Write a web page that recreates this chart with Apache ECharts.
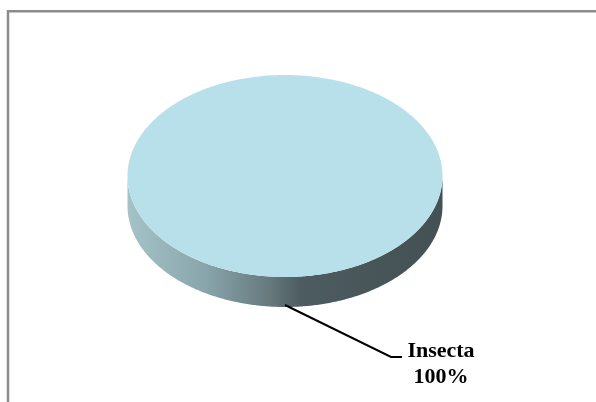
<!DOCTYPE html>
<html>
<head>
<meta charset="utf-8">
<script src="https://cdn.jsdelivr.net/npm/echarts/dist/echarts.min.js"></script>
<style>
  html, body { margin: 0; padding: 0; background: #ffffff; }
  #chart { width: 596px; height: 402px; }
</style>
</head>
<body>
<div id="chart"></div>
<script>
// Class composition of the sample
const categories = ['Insecta'];
const values = [100];

// Styling of the tilted pie
const topColors = ['#b8e0ea'];
const sideStops = [
  { offset: 0.0, color: '#a4c3c9' },
  { offset: 0.25, color: '#88a5ab' },
  { offset: 0.45, color: '#66797d' },
  { offset: 0.55, color: '#4d5c60' },
  { offset: 1.0, color: '#435054' }
];

const pie = { cx: 285, cy: 176, rx: 157.5, ry: 101, depth: 30 };
const total = values.reduce((a, b) => a + b, 0);

// Points along the elliptical rim between two screen angles
function arcPoints(t0, t1, dy) {
  const n = Math.max(2, Math.ceil(Math.abs(t1 - t0) / 0.01));
  const pts = [];
  for (let i = 0; i <= n; i++) {
    const t = t0 + (t1 - t0) * i / n;
    pts.push([pie.cx + pie.rx * Math.cos(t), pie.cy + dy + pie.ry * Math.sin(t)]);
  }
  return pts;
}

function renderSlice(params, api) {
  const idx = params.dataIndex;
  let before = 0;
  for (let i = 0; i < idx; i++) before += values[i];
  const v = api.value(1);
  // slices start at 12 o'clock and run clockwise
  const a0 = -Math.PI / 2 + 2 * Math.PI * before / total;
  const a1 = a0 + 2 * Math.PI * v / total;
  const full = v >= total;
  const children = [];

  // front wall: the part of the slice facing the viewer (screen angles 0..PI)
  const ranges = [];
  for (let k = -1; k <= 1; k++) {
    const s = Math.max(a0, 2 * Math.PI * k);
    const e = Math.min(a1, 2 * Math.PI * k + Math.PI);
    if (e > s) ranges.push([s, e]);
  }
  ranges.forEach(([s, e]) => {
    const topArc = arcPoints(s, e, 0);
    const botArc = arcPoints(e, s, pie.depth);
    children.push({
      type: 'polygon',
      shape: { points: topArc.concat(botArc) },
      style: {
        fill: {
          type: 'linear', global: true,
          x: pie.cx - pie.rx, y: 0, x2: pie.cx + pie.rx, y2: 0,
          colorStops: sideStops
        },
        stroke: null
      }
    });
  });

  // top face
  let facePts = arcPoints(a0, a1, 0);
  if (!full) facePts = [[pie.cx, pie.cy]].concat(facePts);
  children.push({
    type: 'polygon',
    shape: { points: facePts },
    style: { fill: topColors[idx % topColors.length], stroke: null }
  });

  // leader line and label from the slice's middle angle
  const am = (a0 + a1) / 2;
  const onFront = Math.sin(am) > 0;
  const ax = pie.cx + pie.rx * Math.cos(am);
  const ay = pie.cy + pie.ry * Math.sin(am) + (onFront ? pie.depth - 2 : 0);
  const ex = ax + 106, ey = ay + 52;
  const hx = ex + 11;
  children.push({
    type: 'polyline',
    shape: { points: [[ax, ay], [ex, ey], [hx, ey]] },
    style: { stroke: '#000000', lineWidth: 2, fill: null }
  });
  const pct = Math.round(v / total * 100);
  children.push({
    type: 'text',
    style: {
      text: api.value(0) + '\n' + pct + '%',
      x: hx + 39, y: ey + 7,
      align: 'center', verticalAlign: 'middle',
      font: 'bold 22px "Liberation Serif", "Times New Roman", serif',
      lineHeight: 26,
      fill: '#000000'
    }
  });

  return { type: 'group', children };
}

const chart = echarts.init(document.getElementById('chart'), null, { renderer: 'canvas' });
chart.setOption({
  backgroundColor: '#ffffff',
  animation: false,
  graphic: [{
    type: 'rect',
    shape: { x: 8, y: 11.3, width: 700, height: 500 },
    style: { fill: null, stroke: '#8c8c8c', lineWidth: 2.5 },
    silent: true
  }],
  series: [{
    type: 'custom',
    coordinateSystem: 'none',
    renderItem: renderSlice,
    data: categories.map((c, i) => [c, values[i]])
  }]
});
</script>
</body>
</html>
